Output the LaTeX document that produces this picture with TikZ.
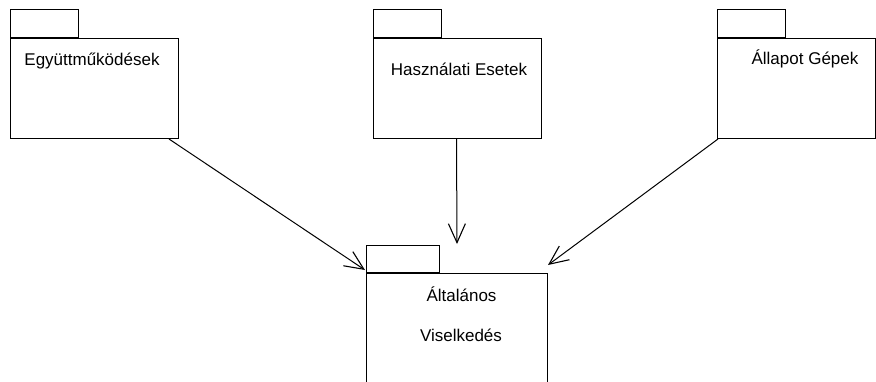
\documentclass[tikz,border=0pt]{standalone}
\usepackage{fontspec}
\setmainfont{Liberation Sans}
\usetikzlibrary{arrows.meta,calc}
\begin{document}
\begin{tikzpicture}[x=1pt,y=-1pt,
  pkgline/.style={draw=black,line width=1pt},
  pkgbody/.style={pkgline,rectangle,inner sep=0pt,anchor=north west},
  pkgtab/.style={pkgline,rectangle,inner sep=0pt,anchor=south west},
  pkgtext/.style={anchor=base,inner sep=0pt,font=\fontsize{17}{20}\selectfont},
  dep/.style={draw=black,line width=1pt,-{Straight Barb[length=19pt,width=17pt,line width=1.1pt]}}]
\useasboundingbox (0,0) rectangle (876,381);

% package: Együttműködések
\node[pkgbody,minimum width=168pt,minimum height=100pt] (p1) at (10,38) {};
\node[pkgtab,minimum width=68pt,minimum height=28pt] (t1) at (p1.north west) {};
\node[pkgtext] (l1) at (92,65) {Együttműködések};

% package: Használati Esetek
\node[pkgbody,minimum width=168pt,minimum height=100pt] (p2) at (373,38) {};
\node[pkgtab,minimum width=68pt,minimum height=28pt] (t2) at (p2.north west) {};
\node[pkgtext] (l2) at (459,75) {Használati Esetek};

% package: Állapot Gépek
\node[pkgbody,minimum width=158pt,minimum height=100pt] (p3) at (717,38) {};
\node[pkgtab,minimum width=68pt,minimum height=28pt] (t3) at (p3.north west) {};
\node[pkgtext] (l3) at (805,64) {Állapot Gépek};

% package: Általános Viselkedés
\node[pkgbody,minimum width=181pt,minimum height=120pt] (p4) at (366,273) {};
\node[pkgtab,minimum width=73pt,minimum height=27pt] (t4) at (p4.north west) {};
\node[pkgtext] (l4a) at (461.5,301.5) {Általános};
\node[pkgtext] (l4b) at (461,341) {Viselkedés};

% dependency ends
\coordinate (s1) at ($(p1.south east)+(-10,0)$);
\coordinate (s2) at ($(p2.south)+(-1,0)$);
\coordinate (s3) at ($(p3.south west)+(1,0)$);
\coordinate (e1) at ($(p4.north west)+(-1,-3)$);
\coordinate (e2) at ($(t4.north east)+(17,-1)$);
\coordinate (e3) at ($(p4.north east)+(0,-8)$);

\draw[dep] (s1) -- (e1);
\draw[dep] (s2) -- (e2);
\draw[dep] (s3) -- (e3);
\end{tikzpicture}
\end{document}
